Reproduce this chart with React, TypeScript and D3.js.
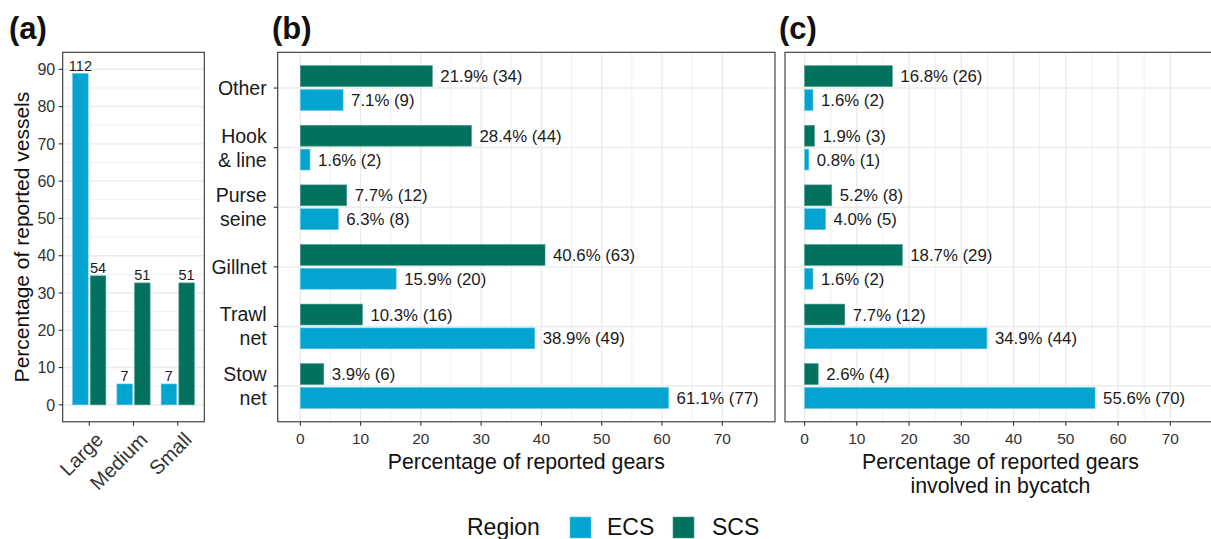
import React from "react";
import * as d3 from "d3";

const sizeCats = ["Large", "Medium", "Small"];
const vesselECS = [88.9, 5.6, 5.6];
const vesselECSn = [112, 7, 7];
const vesselSCS = [34.6, 32.7, 32.7];
const vesselSCSn = [54, 51, 51];

const gears = ["Other", "Hook & line", "Purse seine", "Gillnet", "Trawl net", "Stow net"];
const gearLines = [["Other"], ["Hook", "& line"], ["Purse", "seine"], ["Gillnet"], ["Trawl", "net"], ["Stow", "net"]];
const gearsECS = [7.1, 1.6, 6.3, 15.9, 38.9, 61.1];
const gearsECSn = [9, 2, 8, 20, 49, 77];
const gearsSCS = [21.9, 28.4, 7.7, 40.6, 10.3, 3.9];
const gearsSCSn = [34, 44, 12, 63, 16, 6];
const bycatchECS = [1.6, 0.8, 4.0, 1.6, 34.9, 55.6];
const bycatchECSn = [2, 1, 5, 2, 44, 70];
const bycatchSCS = [16.8, 1.9, 5.2, 18.7, 7.7, 2.6];
const bycatchSCSn = [26, 3, 8, 29, 12, 4];

const xTicks = [0, 10, 20, 30, 40, 50, 60, 70];
const xMinor = [5, 15, 25, 35, 45, 55, 65];
const yTicksA = [0, 10, 20, 30, 40, 50, 60, 70, 80, 90];
const yMinorA = [5, 15, 25, 35, 45, 55, 65, 75, 85];

const ECS = "#03a5d0";
const SCS = "#02725f";
const GRID = "#ebebeb";
const BORDER = "#333333";
const FONT = "'Liberation Sans', Arial, Helvetica, sans-serif";

const TOP = 52.3;
const BOTTOM = 421.8;

function PanelA() {
  const x0 = 62.7, x1 = 204.3;
  const x = d3.scalePoint<string>().domain(sizeCats).range([x0, x1]).padding(0.6);
  const step = x.step();
  const y = d3.scaleLinear().domain([-4.55, 94.56]).range([BOTTOM, TOP]);
  const bw = 0.35 * step;
  return (
    <g>
      <rect x={x0} y={TOP} width={x1 - x0} height={BOTTOM - TOP} fill="white" />
      {yMinorA.map((v) => (
        <line key={"m" + v} x1={x0} x2={x1} y1={y(v)} y2={y(v)} stroke={GRID} strokeWidth={0.8} />
      ))}
      {yTicksA.map((v) => (
        <line key={"M" + v} x1={x0} x2={x1} y1={y(v)} y2={y(v)} stroke={GRID} strokeWidth={1.4} />
      ))}
      {sizeCats.map((c, i) => {
        const cx = x(c)!;
        return (
          <g key={c}>
            <rect x={cx - 0.2 * step - bw / 2} y={y(vesselECS[i])} width={bw} height={y(0) - y(vesselECS[i])} fill={ECS} stroke="#5cc4e0" strokeWidth={0.6} />
            <rect x={cx + 0.2 * step - bw / 2} y={y(vesselSCS[i])} width={bw} height={y(0) - y(vesselSCS[i])} fill={SCS} stroke="#4d9a8c" strokeWidth={0.6} />
            <text x={cx - 0.2 * step} y={y(vesselECS[i]) - 2.5} textAnchor="middle" fontSize={14.5} fill="#1a1a1a">{vesselECSn[i]}</text>
            <text x={cx + 0.2 * step} y={y(vesselSCS[i]) - 2.5} textAnchor="middle" fontSize={14.5} fill="#1a1a1a">{vesselSCSn[i]}</text>
          </g>
        );
      })}
      <rect x={x0} y={TOP} width={x1 - x0} height={BOTTOM - TOP} fill="none" stroke={BORDER} strokeWidth={1.1} />
      {yTicksA.map((v) => (
        <g key={"t" + v}>
          <line x1={x0 - 4} x2={x0} y1={y(v)} y2={y(v)} stroke={BORDER} strokeWidth={1.1} />
          <text x={x0 - 7.5} y={y(v)} dy="0.36em" textAnchor="end" fontSize={16} fill="#333">{v}</text>
        </g>
      ))}
      {sizeCats.map((c) => {
        const cx = x(c)!;
        const ax = cx + 5;
        const ay = BOTTOM + 9;
        return (
          <g key={"x" + c}>
            <line x1={cx} x2={cx} y1={BOTTOM} y2={BOTTOM + 4} stroke={BORDER} strokeWidth={1.1} />
            <text x={ax} y={ay} dy="0.72em" textAnchor="end" fontSize={20} fill="#333" transform={`rotate(-45 ${ax} ${ay})`}>{c}</text>
          </g>
        );
      })}
      <text transform={`translate(22 ${(TOP + BOTTOM) / 2}) rotate(-90)`} textAnchor="middle" dy="0.35em" fontSize={21} fill="#111">Percentage of reported vessels</text>
      <text x={9} y={38.5} fontSize={31} fontWeight="bold" fill="#111">(a)</text>
    </g>
  );
}

function GearPanel(props: {
  x0: number; x1: number; ecs: number[]; ecsN: number[]; scs: number[]; scsN: number[];
  showY: boolean; title: string[]; tag: string; tagX: number;
}) {
  const { x0, x1, ecs, ecsN, scs, scsN, showY, title, tag, tagX } = props;
  const x = d3.scaleLinear().domain([-3.75, 78.75]).range([x0, x1]);
  const y = d3.scalePoint<string>().domain(gears).range([TOP, BOTTOM]).padding(0.6);
  const step = y.step();
  const bh = 0.35 * step;
  const fmt = (v: number, n: number) => `${v.toFixed(1)}% (${n})`;
  return (
    <g>
      <rect x={x0} y={TOP} width={x1 - x0} height={BOTTOM - TOP} fill="white" />
      {xMinor.map((v) => (
        <line key={"m" + v} x1={x(v)} x2={x(v)} y1={TOP} y2={BOTTOM} stroke={GRID} strokeWidth={0.8} />
      ))}
      {xTicks.map((v) => (
        <line key={"M" + v} x1={x(v)} x2={x(v)} y1={TOP} y2={BOTTOM} stroke={GRID} strokeWidth={1.4} />
      ))}
      {gears.map((g) => (
        <line key={"h" + g} x1={x0} x2={x1} y1={y(g)!} y2={y(g)!} stroke={GRID} strokeWidth={1.4} />
      ))}
      {gears.map((g, i) => {
        const cy = y(g)!;
        return (
          <g key={g}>
            <rect x={x(0)} y={cy - 0.2 * step - bh / 2} width={x(scs[i]) - x(0)} height={bh} fill={SCS} stroke="#4d9a8c" strokeWidth={0.6} />
            <rect x={x(0)} y={cy + 0.2 * step - bh / 2} width={x(ecs[i]) - x(0)} height={bh} fill={ECS} stroke="#5cc4e0" strokeWidth={0.6} />
            <text x={x(scs[i]) + 8} y={cy - 0.2 * step} dy="0.36em" fontSize={16.8} fill="#1a1a1a">{fmt(scs[i], scsN[i])}</text>
            <text x={x(ecs[i]) + 8} y={cy + 0.2 * step} dy="0.36em" fontSize={16.8} fill="#1a1a1a">{fmt(ecs[i], ecsN[i])}</text>
          </g>
        );
      })}
      <rect x={x0} y={TOP} width={x1 - x0} height={BOTTOM - TOP} fill="none" stroke={BORDER} strokeWidth={1.1} />
      {xTicks.map((v) => (
        <g key={"t" + v}>
          <line x1={x(v)} x2={x(v)} y1={BOTTOM} y2={BOTTOM + 4} stroke={BORDER} strokeWidth={1.1} />
          <text x={x(v)} y={BOTTOM + 22} textAnchor="middle" fontSize={15.5} fill="#333">{v}</text>
        </g>
      ))}
      {showY && gears.map((g, i) => {
        const cy = y(g)!;
        const lines = gearLines[i];
        const lh = 24;
        const start = cy - ((lines.length - 1) * lh) / 2;
        return (
          <g key={"y" + g}>
            <line x1={x0 - 4} x2={x0} y1={cy} y2={cy} stroke={BORDER} strokeWidth={1.1} />
            {lines.map((l, k) => (
              <text key={k} x={x0 - 11} y={start + k * lh} dy="0.36em" textAnchor="end" fontSize={19.5} fill="#1a1a1a">{l}</text>
            ))}
          </g>
        );
      })}
      {title.map((t, k) => (
        <text key={k} x={(x0 + x1) / 2} y={469 + k * 23.5} textAnchor="middle" fontSize={21.3} fill="#111">{t}</text>
      ))}
      <text x={tagX} y={38.5} fontSize={31} fontWeight="bold" fill="#111">{tag}</text>
    </g>
  );
}

export default function App() {
  return (
    <div style={{ position: "absolute", left: 0, top: 0 }}>
      <svg width={1211} height={539} style={{ display: "block", fontFamily: FONT }}>
        <rect width={1211} height={539} fill="white" />
        <PanelA />
        <GearPanel x0={277.7} x1={775} ecs={gearsECS} ecsN={gearsECSn} scs={gearsSCS} scsN={gearsSCSn} showY={true} title={["Percentage of reported gears"]} tag="(b)" tagX={272} />
        <GearPanel x0={785} x1={1216} ecs={bycatchECS} ecsN={bycatchECSn} scs={bycatchSCS} scsN={bycatchSCSn} showY={false} title={["Percentage of reported gears", "involved in bycatch"]} tag="(c)" tagX={779} />
        <g>
          <text x={467} y={535} fontSize={23} fill="#111">Region</text>
          <rect x={570} y={517} width={21} height={21} fill={ECS} stroke="#5cc4e0" strokeWidth={0.6} />
          <text x={607} y={535} fontSize={23} fill="#111">ECS</text>
          <rect x={673} y={517} width={21} height={21} fill={SCS} stroke="#4d9a8c" strokeWidth={0.6} />
          <text x={712} y={535} fontSize={23} fill="#111">SCS</text>
        </g>
      </svg>
    </div>
  );
}
